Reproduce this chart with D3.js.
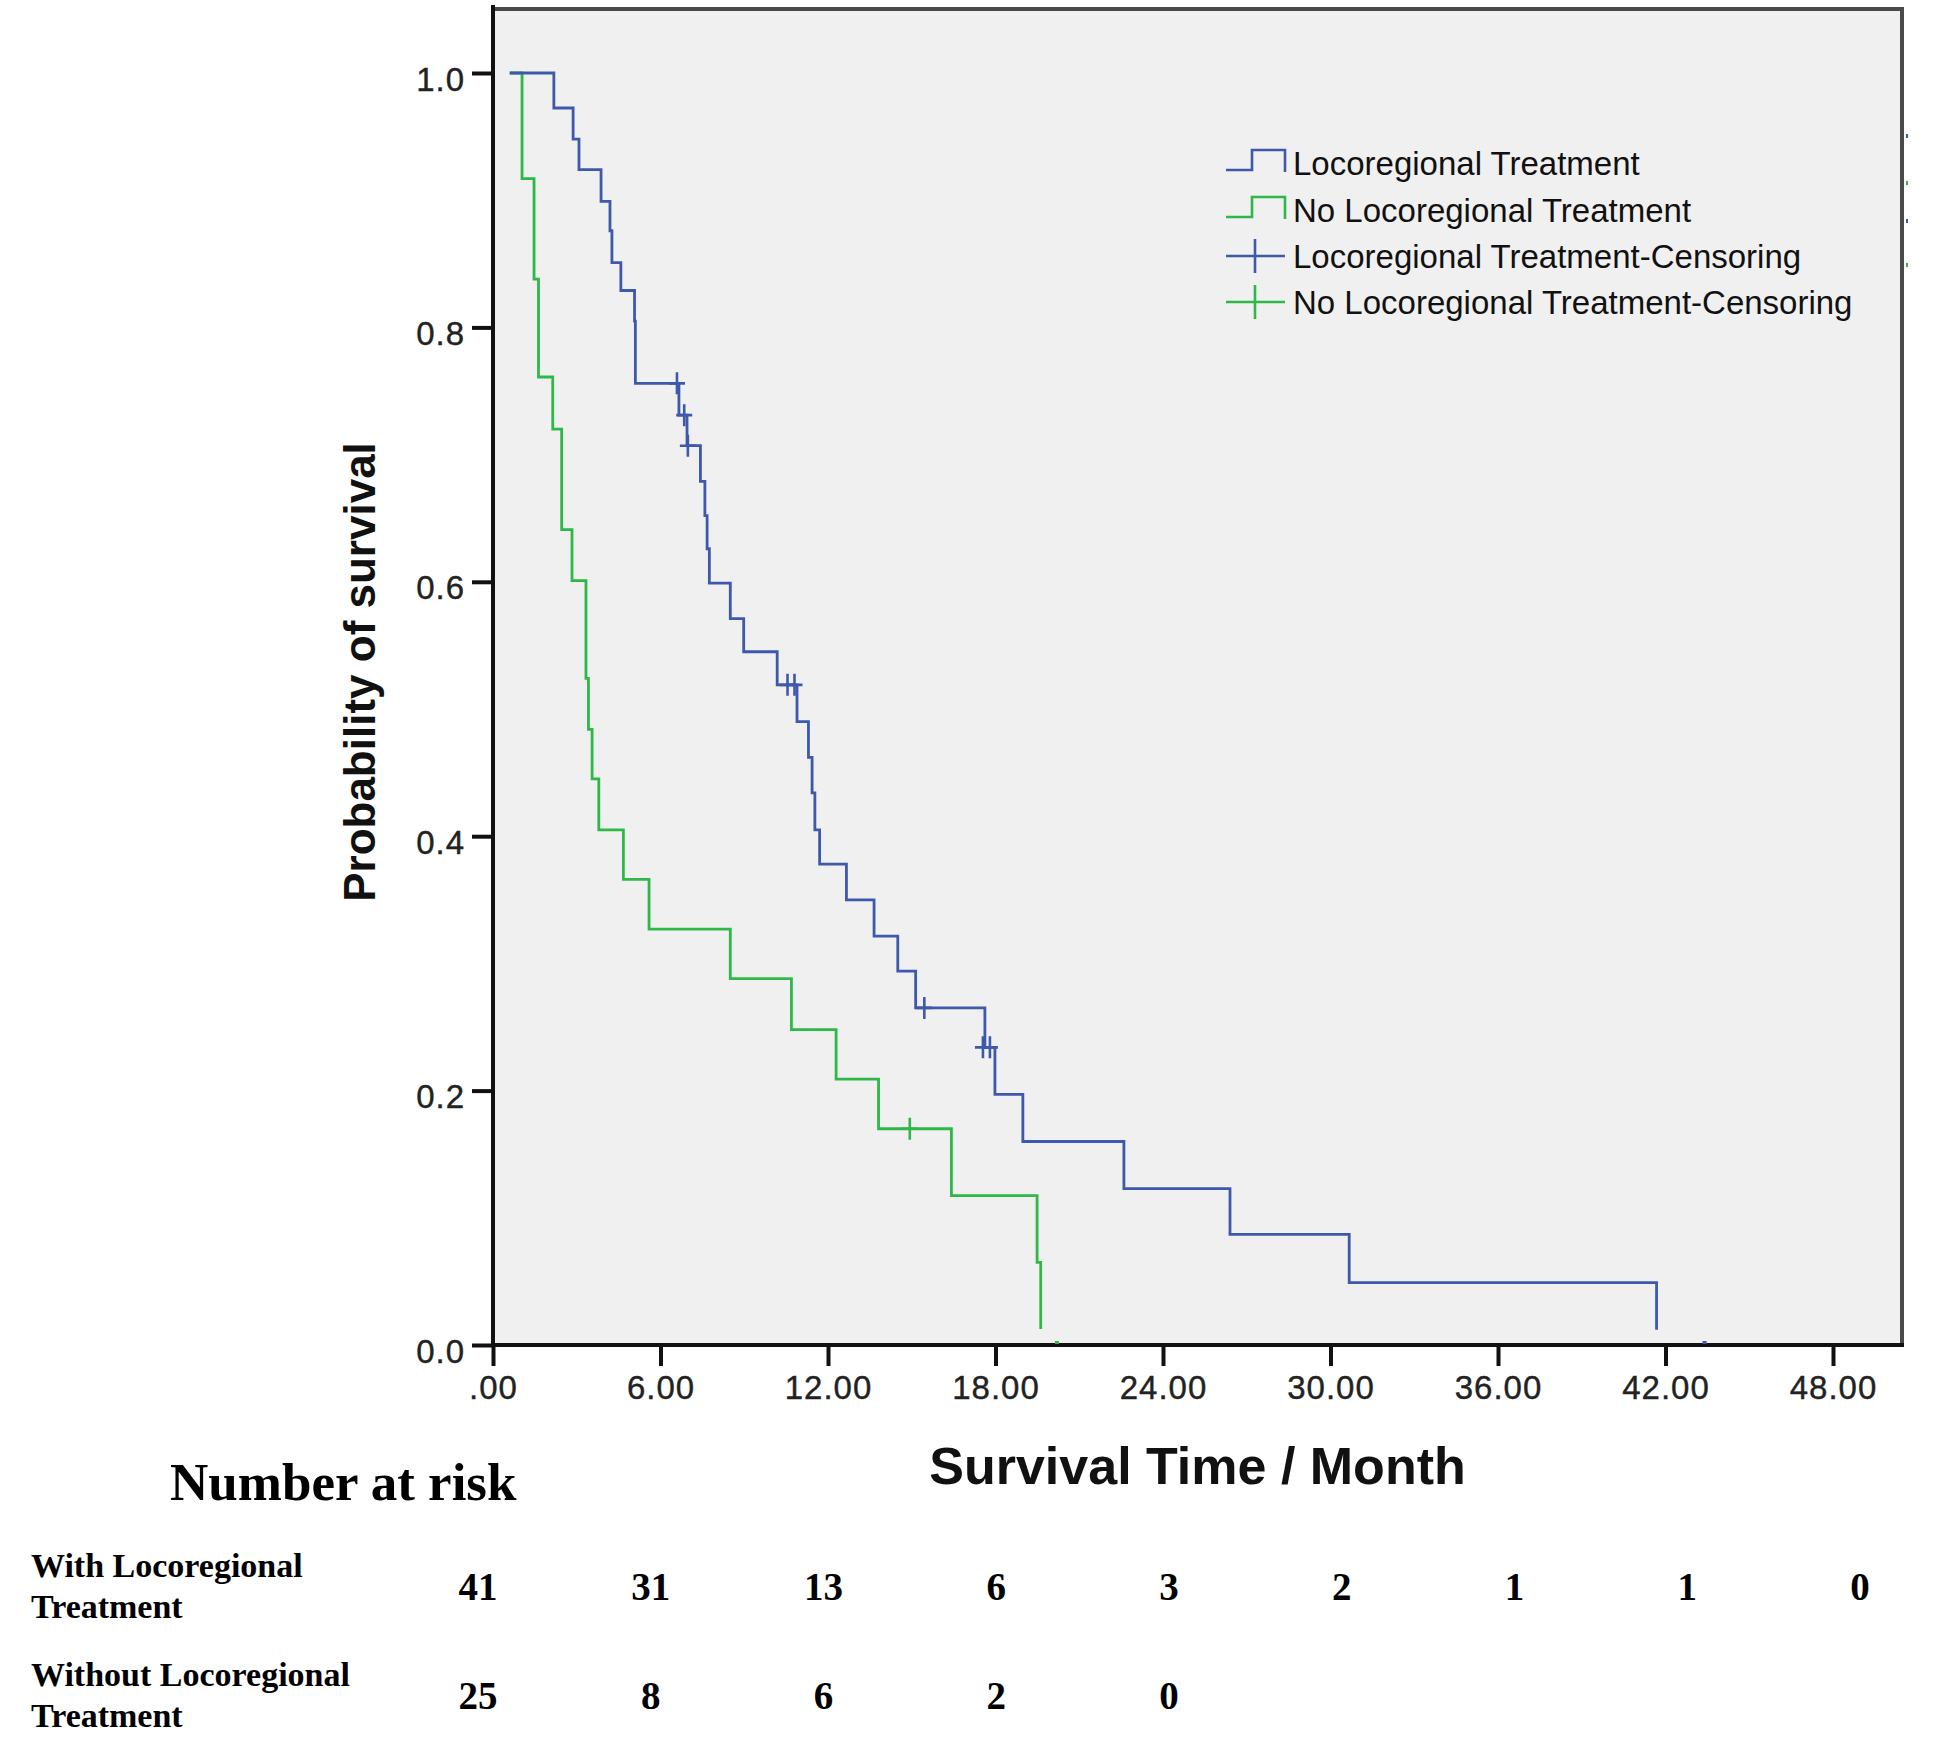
<!DOCTYPE html>
<html>
<head>
<meta charset="utf-8">
<script src="https://cdn.jsdelivr.net/npm/d3@7"></script>
<style>
  body { margin: 0; background: #fff; }
  svg { display: block; }
</style>
</head>
<body>
<div id="chart"></div>
<script>
// tick values and labels
var timeTicks = [0, 6, 12, 18, 24, 30, 36, 42, 48];
var timeTickLabels = ['.00', '6.00', '12.00', '18.00', '24.00', '30.00', '36.00', '42.00', '48.00'];
var survTicks = [0, 0.2, 0.4, 0.6, 0.8, 1.0];
var survTickLabels = ['0.0', '0.2', '0.4', '0.6', '0.8', '1.0'];

// Kaplan-Meier steps, locoregional treatment (month, survival after the step)
var locoTimes = [0.6, 2.18, 2.87, 3.08, 3.87, 4.19, 4.26, 4.58, 5.07, 5.1, 6.66, 6.95, 7.43, 7.59, 7.67, 7.75, 8.5, 8.98,
  10.18, 10.89, 11.3, 11.43, 11.53, 11.7, 12.66, 13.65, 14.5, 15.14, 17.62, 17.98, 18.98, 22.6, 26.4, 30.67, 41.68];
var locoSurv = [1.0, 0.9725, 0.948, 0.924, 0.899, 0.876, 0.851, 0.829, 0.805, 0.756, 0.731, 0.707, 0.679, 0.652, 0.626, 0.599, 0.571, 0.545,
  0.519, 0.490, 0.462, 0.434, 0.405, 0.378, 0.350, 0.3215, 0.294, 0.265, 0.234, 0.197, 0.160, 0.123, 0.087, 0.049, 0.012];

// no locoregional treatment
var noLocoTimes = [0.6, 1.04, 1.47, 1.63, 2.14, 2.46, 2.83, 3.33, 3.42, 3.55, 3.79, 4.67, 5.59, 8.5, 10.69, 12.29, 13.81, 16.42, 19.49, 19.62];
var noLocoSurv = [1.0, 0.917, 0.838, 0.761, 0.720, 0.641, 0.601, 0.524, 0.484, 0.445, 0.405, 0.366, 0.327, 0.288, 0.248, 0.209, 0.170, 0.1175, 0.065, 0.0126];

// censoring marks
var locoCensTimes = [6.59, 6.85, 6.98, 10.55, 10.8, 15.45, 17.55, 17.8];
var locoCensSurv = [0.756, 0.731, 0.707, 0.519, 0.519, 0.265, 0.234, 0.234];
var noLocoCensTimes = [14.93];
var noLocoCensSurv = [0.170];

// number at risk table
var riskTimes = [0, 6, 12, 18, 24, 30, 36, 42, 48];
var riskWith = [41, 31, 13, 6, 3, 2, 1, 1, 0];
var riskWithout = [25, 8, 6, 2, 0];

var legendLabels = ['Locoregional Treatment', 'No Locoregional Treatment',
  'Locoregional Treatment-Censoring', 'No Locoregional Treatment-Censoring'];

var BLUE = '#3E58AC', GREEN = '#2EB848';

var width = 1949, height = 1751;
var svg = d3.select('#chart').append('svg')
  .attr('width', width)
  .attr('height', height);

var x = d3.scaleLinear().domain([0, 48]).range([493, 1833]);
var y = d3.scaleLinear().domain([0, 1]).range([1345, 73]);
var plotRight = 1902, plotTop = 9;

// plot background and frame
svg.append('rect')
  .attr('x', x(0)).attr('y', plotTop)
  .attr('width', plotRight - x(0)).attr('height', y(0) - plotTop)
  .attr('fill', '#f0f0f0');
svg.append('path')
  .attr('d', 'M' + x(0) + ',' + plotTop + 'H' + plotRight + 'V' + y(0))
  .attr('fill', 'none')
  .attr('stroke', '#4a4a4a')
  .attr('stroke-width', 4);

// axes
var yAxis = d3.axisLeft(y)
  .tickValues(survTicks)
  .tickFormat(function(d, i) { return survTickLabels[i]; })
  .tickSize(21)
  .tickSizeOuter(0)
  .tickPadding(7);
var gy = svg.append('g').attr('transform', 'translate(' + x(0) + ',0)').call(yAxis);

var xAxis = d3.axisBottom(x)
  .tickValues(timeTicks)
  .tickFormat(function(d, i) { return timeTickLabels[i]; })
  .tickSize(21)
  .tickSizeOuter(0)
  .tickPadding(10);
var gx = svg.append('g').attr('transform', 'translate(0,' + y(0) + ')').call(xAxis);

[gx, gy].forEach(function(g) {
  g.select('.domain').remove();
  g.selectAll('.tick line').attr('stroke', '#111').attr('stroke-width', 4);
  g.selectAll('.tick text')
    .attr('fill', '#222')
    .style('font-family', '"Liberation Sans", Arial, sans-serif')
    .style('font-size', '33px')
    .style('letter-spacing', '1px')
    .style('stroke', '#222')
    .style('stroke-width', '0.4px');
});
gy.selectAll('.tick text').attr('dy', '0.52em');

svg.append('line')
  .attr('x1', x(0)).attr('x2', x(0))
  .attr('y1', 5).attr('y2', y(0) + 2)
  .attr('stroke', '#111').attr('stroke-width', 4);
svg.append('line')
  .attr('x1', x(0) - 2).attr('x2', plotRight + 2)
  .attr('y1', y(0)).attr('y2', y(0))
  .attr('stroke', '#111').attr('stroke-width', 4);

// survival curves
var line = d3.line()
  .x(function(d) { return x(d[0]); })
  .y(function(d) { return y(d[1]); })
  .curve(d3.curveStepAfter);

function drawCurve(times, surv, color) {
  svg.append('path')
    .datum(d3.zip(times, surv))
    .attr('d', line)
    .attr('fill', 'none')
    .attr('stroke', color)
    .attr('stroke-width', 2.8);
}
drawCurve(noLocoTimes, noLocoSurv, GREEN);
drawCurve(locoTimes, locoSurv, BLUE);

function drawCensors(times, surv, color) {
  var g = svg.append('g');
  d3.zip(times, surv).forEach(function(d) {
    var cx = x(d[0]), cy = y(d[1]);
    g.append('path')
      .attr('d', 'M' + (cx - 8) + ',' + cy + 'H' + (cx + 8) + 'M' + cx + ',' + (cy - 11) + 'V' + (cy + 11))
      .attr('stroke', color)
      .attr('stroke-width', 2.6)
      .attr('fill', 'none');
  });
}
drawCensors(locoCensTimes, locoCensSurv, BLUE);
drawCensors(noLocoCensTimes, noLocoCensSurv, GREEN);

// little marks sitting on the time axis
svg.append('rect').attr('x', x(43.4) - 2).attr('y', y(0) - 4).attr('width', 4).attr('height', 3).attr('fill', BLUE);
svg.append('rect').attr('x', x(20.2) - 2).attr('y', y(0) - 4).attr('width', 4).attr('height', 3).attr('fill', GREEN);

// axis titles
svg.append('text')
  .attr('x', (x(0) + plotRight) / 2)
  .attr('y', 1484)
  .attr('text-anchor', 'middle')
  .style('font-family', '"Liberation Sans", Arial, sans-serif')
  .style('font-weight', 'bold')
  .style('font-size', '52px')
  .attr('fill', '#111')
  .text('Survival Time / Month');

svg.append('text')
  .attr('transform', 'translate(375,672) rotate(-90)')
  .attr('text-anchor', 'middle')
  .style('font-family', '"Liberation Sans", Arial, sans-serif')
  .style('font-weight', 'bold')
  .style('font-size', '44px')
  .attr('fill', '#111')
  .text('Probability of survival');

// legend
var legendColors = [BLUE, GREEN, BLUE, GREEN];
var legendY = [163, 210, 256, 302];
var lg = svg.append('g');
legendLabels.forEach(function(label, i) {
  var cy = legendY[i], c = legendColors[i];
  if (i < 2) {
    lg.append('path')
      .attr('d', 'M1226,' + (cy + 7) + 'H1252V' + (cy - 13) + 'H1285V' + (cy + 9))
      .attr('fill', 'none').attr('stroke', c).attr('stroke-width', 2.6);
  } else {
    lg.append('path')
      .attr('d', 'M1226,' + cy + 'H1285M1255,' + (cy - 17) + 'V' + (cy + 17))
      .attr('fill', 'none').attr('stroke', c).attr('stroke-width', 2.6);
  }
  lg.append('text')
    .attr('x', 1293)
    .attr('y', cy + 12)
    .style('font-family', '"Liberation Sans", Arial, sans-serif')
    .style('font-size', '33px')
    .attr('fill', '#111')
    .text(label);
});

// stray legend dots right of the frame
[[136, BLUE], [183, GREEN], [221, BLUE], [265, GREEN]].forEach(function(d) {
  svg.append('rect').attr('x', 1906).attr('y', d[0] - 2).attr('width', 2).attr('height', 4).attr('fill', d[1]);
});

// number at risk
var col = d3.scaleLinear().domain([0, 48]).range([478, 1860]);
var serif = '"Liberation Serif", "Times New Roman", serif';

svg.append('text')
  .attr('x', 170).attr('y', 1500)
  .style('font-family', serif).style('font-weight', 'bold').style('font-size', '53px')
  .attr('fill', '#000')
  .text('Number at risk');

var rowLabels = [['With Locoregional', 'Treatment'], ['Without Locoregional', 'Treatment']];
var rowBase = [1577, 1686];
rowLabels.forEach(function(lines, r) {
  lines.forEach(function(t, k) {
    svg.append('text')
      .attr('x', 31).attr('y', rowBase[r] + k * 41)
      .style('font-family', serif).style('font-weight', 'bold').style('font-size', '34px')
      .attr('fill', '#000')
      .text(t);
  });
});

function drawRiskRow(values, baseline) {
  svg.append('g').selectAll('text')
    .data(values)
    .enter().append('text')
    .attr('x', function(d, i) { return col(riskTimes[i]); })
    .attr('y', baseline)
    .attr('text-anchor', 'middle')
    .style('font-family', serif).style('font-weight', 'bold').style('font-size', '39px')
    .attr('fill', '#000')
    .text(function(d) { return d; });
}
drawRiskRow(riskWith, 1600);
drawRiskRow(riskWithout, 1709);
</script>
</body>
</html>
